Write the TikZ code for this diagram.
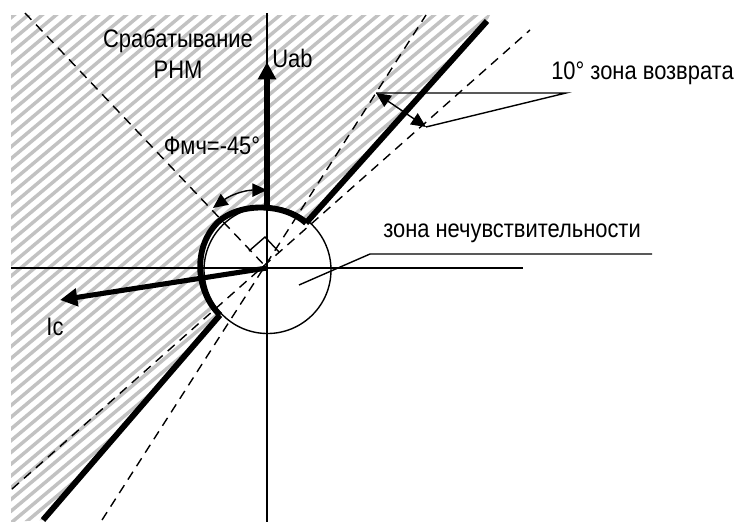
\documentclass[tikz,border=0pt]{standalone}
\usepackage{fontspec}
\setmainfont[FakeStretch=0.865]{Liberation Sans}
\usetikzlibrary{arrows.meta}
\definecolor{hatchgray}{gray}{0.76}
\tikzset{
  px/.style={x=0.75pt,y=-0.75pt},
  thinline/.style={draw=black,line width=1.05pt},
  boldline/.style={draw=black,line width=4.4pt},
  dashline/.style={draw=black,line width=1.05pt,dash pattern=on 7pt off 5pt},
  lbl/.style={font=\fontsize{19pt}{23pt}\selectfont,inner sep=0pt,align=center},
  bigtip/.style={-{Triangle[length=13pt,width=13pt]}},
  smalltips/.style={{Triangle[length=11pt,width=10pt]}-{Triangle[length=11pt,width=10pt]}},
  hatch/.style={draw=hatchgray,line width=2.6pt}
}
\begin{document}
\begin{tikzpicture}[px]
\useasboundingbox (0,0) rectangle (737,522);
\coordinate (O) at (267,268);
\coordinate (CC) at (267.5,270);
\coordinate (UR) at (487,21);
\coordinate (J1) at (306,223);
\coordinate (J2) at (220,315);
\coordinate (LL) at (43,520);
% hatched region
\begin{scope}
\clip (11,15) -- (490,15) -- (UR) -- (J1) .. controls (284,203) and (240,202) .. (218,222) .. controls (192,248) and (196,292) .. (J2) -- (LL) -- (11,522) -- cycle;
\foreach \k in {0,...,60}{
  \draw[hatch] ({-10+\k*14},0) -- ++({-840},{705});
}
\end{scope}
% circle
\node[draw=black,line width=1.05pt,circle,minimum size=95.25pt,inner sep=0pt] (C) at (CC) {};
% axes
\coordinate (VT) at (267,13);
\coordinate (VB) at (267,522);
\coordinate (HL) at (11,268);
\coordinate (HR) at (523,268);
\draw[thinline] (VT) -- (VB);
\draw[thinline] (HL) -- (HR);
% dashed
\coordinate (DA1) at (12,489);
\coordinate (DA2) at (530,30);
\coordinate (DB1) at (102,520);
\coordinate (DB2) at (426,15);
\coordinate (DC1) at (25,13);
\draw[dashline] (DA1) -- (DA2);
\draw[dashline] (DB1) -- (DB2);
\draw[dashline] (DC1) -- (O);
% bold
\draw[boldline] (UR) -- (J1);
\draw[boldline] (J2) -- (LL);
\draw[boldline] (J1) .. controls (284,203) and (240,202) .. (218,222) .. controls (192,248) and (196,292) .. (J2);
% vectors
\coordinate (UT) at (267,62);
\coordinate (UB) at (267,205);
\coordinate (IT) at (60,300);
\draw[draw=black,line width=4.4pt,bigtip] (UB) -- (UT);
\draw[draw=black,line width=3.8pt,bigtip] (O) -- (IT);
% angle marks
\coordinate (A1) at (267,190);
\coordinate (A2) at (213,208);
\draw[thinline,smalltips] (A2) to[bend left=18] (A1);
\coordinate (R1) at (376,93);
\coordinate (R2) at (426,127);
\draw[thinline,smalltips] (R1) to (R2);
\coordinate (L1) at (566,93);
\draw[thinline] (R1) -- (L1) -- (R2);
% right angle
\coordinate (Q1) at (249,251);
\coordinate (Q2) at (265,237);
\coordinate (Q3) at (279,252);
\draw[thinline] (Q1) -- (Q2) -- (Q3);
% leader
\coordinate (N1) at (299,285);
\coordinate (N2) at (370,254);
\coordinate (N3) at (652,254);
\draw[thinline] (N1) -- (N2) -- (N3);
% labels
\node[lbl] (t1) at (178,54) {Срабатывание\\РНМ};
\node[lbl,anchor=west] (t2) at (272,58) {Uab};
\node[lbl] (t3) at (212,146) {Фмч=-45°};
\node[lbl,anchor=west] (t4) at (551,73) {10° зона возврата};
\node[lbl,anchor=west] (t5) at (383,233) {зона нечувствительности};
\node[lbl] (t6) at (55,327) {Ic};
\end{tikzpicture}
\end{document}
